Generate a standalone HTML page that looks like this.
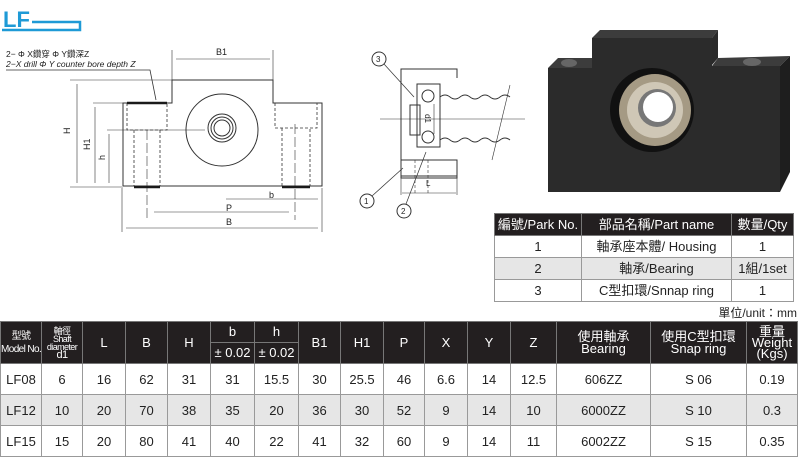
<!DOCTYPE html>
<html><head><meta charset="utf-8"><style>
body{margin:0;width:800px;height:460px;background:#fff;position:relative;overflow:hidden;font-family:"Liberation Sans","Noto Sans CJK TC",sans-serif;}
table{border-collapse:collapse;table-layout:fixed;position:absolute;}
td{border:1px solid #999;text-align:center;padding:0;color:#222;overflow:hidden;}
.h td{background:#231f20;color:#fff;border-color:#777;}
.g td{background:#e6e6e6;}
#pt{left:494px;top:213px;width:299px;font-size:13px;}
#pt td{height:21px;line-height:15px;}
#mt{left:0;top:321px;width:797px;font-size:13px;}
#mt tr.d td{height:30px;line-height:15px;}
#mt .h td{height:20px;line-height:12px;font-size:13px;}
#mt .h td.sm{font-size:9px;line-height:8px;letter-spacing:-0.6px;white-space:nowrap;}
</style></head><body>
<svg width="800" height="320" style="position:absolute;left:0;top:0" font-family="Liberation Sans, Noto Sans CJK TC, sans-serif">
<text x="3" y="27" font-size="22" font-weight="bold" fill="#1e9ad6">LF</text>
<polyline points="2,30 80,30 80,22 32,22" fill="none" stroke="#1e9ad6" stroke-width="2.5"/>
<text x="6" y="57" font-size="8.5" fill="#222">2− Φ X鑽穿 Φ Y鑽深Z</text>
<text x="6" y="67" font-size="8.5" fill="#222" font-style="italic">2−X drill  Φ Y counter bore depth Z</text>
<polyline points="6,70 150,70 156,100" fill="none" stroke="#333" stroke-width="0.8"/>
<g stroke="#333" fill="none" stroke-width="1">
<polyline points="123,186 123,103 172,103 172,80 273,80 273,103 322,103 322,186 123,186"/>
<line x1="70" y1="80" x2="272" y2="80" stroke-width="0.6"/>
<line x1="93" y1="103" x2="123" y2="103" stroke-width="0.6"/>
<line x1="107" y1="130" x2="205" y2="130" stroke-width="0.6"/>
<line x1="70" y1="187" x2="123" y2="187" stroke-width="0.6"/>
<line x1="172" y1="50" x2="172" y2="80" stroke-width="0.6"/><line x1="273" y1="50" x2="273" y2="80" stroke-width="0.6"/>
<line x1="176" y1="59" x2="270" y2="59" stroke-width="0.6"/>
<line x1="77" y1="84" x2="77" y2="183" stroke-width="0.6"/>
<line x1="95" y1="107" x2="95" y2="183" stroke-width="0.6"/>
<line x1="109" y1="134" x2="109" y2="183" stroke-width="0.6"/>
<line x1="226" y1="199" x2="318" y2="199" stroke-width="0.6"/>
<line x1="154" y1="212" x2="289" y2="212" stroke-width="0.6"/>
<line x1="126" y1="228" x2="318" y2="228" stroke-width="0.6"/>
<line x1="122" y1="188" x2="122" y2="232" stroke-width="0.6"/><line x1="322" y1="188" x2="322" y2="232" stroke-width="0.6"/>
<line x1="147" y1="130" x2="147" y2="220" stroke-width="0.6" stroke-dasharray="10,3"/>
<line x1="295" y1="124" x2="295" y2="220" stroke-width="0.6" stroke-dasharray="10,3"/>
<circle cx="222" cy="130" r="36"/>
<circle cx="222" cy="128" r="14"/><circle cx="222" cy="128" r="11"/><circle cx="222" cy="128" r="8"/>
<g stroke-dasharray="3,2" stroke-width="0.8">
<polyline points="127,103 127,130 167,130 167,103"/><polyline points="134,130 134,186 160,186 160,130"/>
<polyline points="275,103 275,128 317,128 317,103"/><polyline points="282,128 282,186 310,186 310,128"/>
</g>
<g stroke="#1a1a1a" stroke-width="2.5"><line x1="134" y1="187" x2="160" y2="187"/><line x1="282" y1="187" x2="310" y2="187"/><line x1="127" y1="103" x2="167" y2="103"/></g>
</g>
<g font-size="9" fill="#222"><text x="216" y="55">B1</text><text x="269" y="198">b</text><text x="226" y="211">P</text><text x="226" y="225">B</text>
<text x="70" y="134" transform="rotate(-90 70 134)">H</text><text x="90" y="150" transform="rotate(-90 90 150)">H1</text><text x="105" y="160" transform="rotate(-90 105 160)">h</text></g>
<g stroke="#333" fill="none" stroke-width="1">
<path d="M401,78 v-9 h56 v9 M401,78 V178 h56 V160 M401,160 h56 v18"/>
<rect x="401" y="160" width="56" height="16"/>
<line x1="401" y1="178" x2="401" y2="195" stroke-width="0.6"/><line x1="457" y1="178" x2="457" y2="195" stroke-width="0.6"/>
<line x1="402" y1="193" x2="456" y2="193" stroke-width="0.6"/>
<rect x="417" y="84" width="23" height="63"/>
<circle cx="428" cy="96" r="6"/><circle cx="428" cy="137" r="6"/>
<rect x="410" y="105" width="10" height="30"/>
<line x1="380" y1="119" x2="525" y2="119" stroke-width="0.6"/>
<path d="M440,97 q5,-4 10,0 t10,0 t10,0 t10,0 t10,0 t10,0 t10,0"/>
<path d="M440,140 q5,-4 10,0 t10,0 t10,0 t10,0 t10,0 t10,0 t10,0"/>
<line x1="510" y1="85" x2="492" y2="160" stroke-width="0.6"/>
<line x1="434" y1="104" x2="434" y2="134" stroke-width="0.6"/>
<line x1="415" y1="160" x2="415" y2="193" stroke-dasharray="3,2" stroke-width="0.6"/><line x1="428" y1="160" x2="428" y2="193" stroke-dasharray="3,2" stroke-width="0.6"/>
<circle cx="379" cy="59" r="7"/><circle cx="367" cy="201" r="7"/><circle cx="404" cy="211" r="7"/>
<line x1="384" y1="64" x2="414" y2="97" stroke-width="0.7"/>
<line x1="372" y1="196" x2="403" y2="168" stroke-width="0.7"/>
<line x1="406" y1="204" x2="426" y2="152" stroke-width="0.7"/>
</g>
<g font-size="8" fill="#222"><text x="376" y="62">3</text><text x="364" y="204">1</text><text x="401" y="214">2</text><text x="426" y="186">L</text>
<text x="425" y="114" transform="rotate(90 425 114)" font-size="8">d1</text></g>
<polygon points="592,38 600,30 718,30 712,38" fill="#3c3c3c"/>
<polygon points="712,38 718,30 718,58 712,65" fill="#2a2a2a"/>
<polygon points="548,68 558,58 592,58 592,68" fill="#3c3c3c"/>
<polygon points="712,66 718,58 790,56 780,66" fill="#3c3c3c"/>
<polygon points="548,68 592,68 592,38 712,38 712,66 780,66 780,192 548,192" fill="#2b2b2b"/>
<polygon points="780,66 790,56 790,172 780,192" fill="#1e1e1e"/>
<ellipse cx="569" cy="63" rx="8" ry="4" fill="#666"/><ellipse cx="752" cy="62" rx="9" ry="4" fill="#666"/>
<circle cx="652" cy="110" r="42" fill="#111"/>
<circle cx="655" cy="110" r="36" fill="#a59a84"/>
<circle cx="655" cy="110" r="28" fill="#cfc7b6"/>
<circle cx="657" cy="108" r="19" fill="#777"/>
<circle cx="658" cy="107" r="15" fill="#fff"/>
</svg>
<table id="pt">
<colgroup><col style="width:87px"><col style="width:150px"><col style="width:62px"></colgroup>
<tr class="h"><td>編號/Park No.</td><td>部品名稱/Part name</td><td>數量/Qty</td></tr>
<tr><td>1</td><td>軸承座本體/ Housing</td><td>1</td></tr>
<tr class="g"><td>2</td><td>軸承/Bearing</td><td>1組/1set</td></tr>
<tr><td>3</td><td>C型扣環/Snnap ring</td><td>1</td></tr>
</table>
<div style="position:absolute;right:3px;top:304px;font-size:12px;color:#222">單位/unit：mm</div>
<table id="mt">
<colgroup><col style="width:41px"><col style="width:41px"><col style="width:43px"><col style="width:42px"><col style="width:43px"><col style="width:44px"><col style="width:44px"><col style="width:42px"><col style="width:43px"><col style="width:41px"><col style="width:43px"><col style="width:43px"><col style="width:46px"><col style="width:94px"><col style="width:96px"><col style="width:51px"></colgroup>
<tr class="h"><td rowspan="2" class="sm" style="font-size:10px;line-height:13px">型號<br>Model No.</td><td rowspan="2" class="sm">軸徑<br>Shaft<br>diameter<br><span style="font-size:11px">d1</span></td><td rowspan="2">L</td><td rowspan="2">B</td><td rowspan="2">H</td><td>b</td><td>h</td><td rowspan="2">B1</td><td rowspan="2">H1</td><td rowspan="2">P</td><td rowspan="2">X</td><td rowspan="2">Y</td><td rowspan="2">Z</td><td rowspan="2">使用軸承<br>Bearing</td><td rowspan="2">使用C型扣環<br>Snap ring</td><td rowspan="2" style="line-height:11px">重量<br>Weight<br>(Kgs)</td></tr>
<tr class="h"><td>± 0.02</td><td>± 0.02</td></tr>
<tr class="d"><td>LF08</td><td>6</td><td>16</td><td>62</td><td>31</td><td>31</td><td>15.5</td><td>30</td><td>25.5</td><td>46</td><td>6.6</td><td>14</td><td>12.5</td><td>606ZZ</td><td>S 06</td><td>0.19</td></tr>
<tr class="d g"><td>LF12</td><td>10</td><td>20</td><td>70</td><td>38</td><td>35</td><td>20</td><td>36</td><td>30</td><td>52</td><td>9</td><td>14</td><td>10</td><td>6000ZZ</td><td>S 10</td><td>0.3</td></tr>
<tr class="d"><td>LF15</td><td>15</td><td>20</td><td>80</td><td>41</td><td>40</td><td>22</td><td>41</td><td>32</td><td>60</td><td>9</td><td>14</td><td>11</td><td>6002ZZ</td><td>S 15</td><td>0.35</td></tr>
</table>
</body></html>
